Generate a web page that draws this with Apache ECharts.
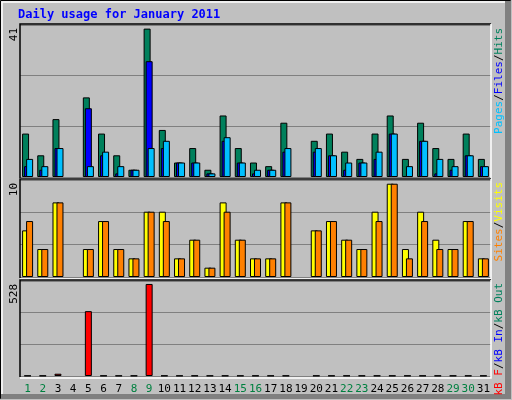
<!DOCTYPE html>
<html>
<head>
<meta charset="utf-8">
<script src="https://cdn.jsdelivr.net/npm/echarts@6/dist/echarts.min.js"></script>
<style>
html, body { margin: 0; padding: 0; background: #c0c0c0; }
#chart { width: 512px; height: 400px; }
</style>
</head>
<body>
<div id="chart"></div>
<script>
var days = [];
for (var d = 1; d <= 31; d++) { days.push(String(d)); }
var weekend = [1, 2, 8, 9, 15, 16, 22, 23, 29, 30];

var hits  = [12, 6, 16, 0, 22, 12, 6, 2, 41, 13, 4, 8, 2, 17, 8, 4, 3, 15, 0, 10, 12, 7, 5, 12, 17, 5, 15, 8, 5, 12, 5];
var files = [3, 2, 8, 0, 19, 6, 1, 2, 32, 8, 4, 4, 1, 10, 4, 1, 2, 7, 0, 7, 6, 2, 4, 5, 12, 0, 10, 1, 2, 6, 3];
var pages = [5, 3, 8, 0, 3, 7, 3, 2, 8, 10, 4, 4, 1, 11, 4, 2, 2, 8, 0, 8, 6, 4, 4, 7, 12, 3, 10, 5, 3, 6, 3];

var visits = [5, 3, 8, 0, 3, 6, 3, 2, 7, 7, 2, 4, 1, 8, 4, 2, 2, 8, 0, 5, 6, 4, 3, 7, 10, 3, 7, 4, 3, 6, 2];
var sites  = [6, 3, 8, 0, 3, 6, 3, 2, 7, 6, 2, 4, 1, 7, 4, 2, 2, 8, 0, 5, 6, 4, 3, 6, 10, 2, 6, 3, 3, 6, 2];

var kbytes = [2, 2, 13, 0, 372, 2, 2, 2, 528, 2, 2, 2, 2, 2, 2, 2, 2, 2, 0, 2, 2, 2, 2, 2, 2, 2, 2, 2, 2, 2, 2];

var chart = echarts.init(document.getElementById('chart'));

var mono = 'DejaVu Sans Mono';
var grids = [
    { left: 20, right: 21, top: 25, height: 152 },
    { left: 20, right: 21, top: 180, height: 97 },
    { left: 20, right: 21, top: 281, height: 95 }
];
var maxes = [42, 10.4, 545];

var xAxes = grids.map(function (g, i) {
    return {
        type: 'category', gridIndex: i, data: days,
        axisLine: { show: false }, axisTick: { show: false },
        axisLabel: i < 2 ? { show: false } : {
            interval: 0, margin: 8, fontFamily: mono, fontSize: 11,
            formatter: function (v) {
                return weekend.indexOf(+v) >= 0 ? '{w|' + v + '}' : '{n|' + v + '}';
            },
            rich: { w: { color: '#008040', fontFamily: mono, fontSize: 11 }, n: { color: '#000', fontFamily: mono, fontSize: 11 } }
        }
    };
});
var yAxes = grids.map(function (g, i) {
    return {
        type: 'value', gridIndex: i, min: 0, max: maxes[i], interval: maxes[i] / 3,
        axisLabel: { show: false }, axisLine: { show: false }, axisTick: { show: false },
        splitLine: { lineStyle: { color: '#808080', width: 1 } }
    };
});

function bar(name, data, color, axis, gap, z) {
    return {
        name: name, type: 'bar', xAxisIndex: axis, yAxisIndex: axis,
        data: data.map(function (v) { return v === 0 ? '-' : v; }),
        barWidth: 7, barGap: gap, z: z, animation: false,
        itemStyle: { color: color, borderColor: '#000', borderWidth: 1 }
    };
}

function vText(x, y, parts) {
    var st = function (c) { return { fill: c, fontFamily: mono, fontSize: 11 }; };
    return {
        type: 'text', x: x, y: y, rotation: Math.PI / 2,
        style: {
            text: parts.map(function (p) { return '{' + p[1] + '|' + p[0] + '}'; }).join(''),
            font: '11px "DejaVu Sans Mono"',
            rich: {
                a: st('#00805c'), b: st('#0000ff'), c: st('#00c0ff'), k: st('#000'),
                y: st('#ffff00'), o: st('#ff8000'), r: st('#ff0000')
            },
            align: 'right', verticalAlign: 'middle'
        }
    };
}
function frame(g) {
    return {
        type: 'polyline', silent: true, z: 100,
        shape: { points: [[g.left, g.top + g.height + 1], [g.left, g.top - 1], [491, g.top - 1]] },
        style: { stroke: '#000', lineWidth: 1.5, fill: null }
    };
}
function frame2(g) {
    return {
        type: 'polyline', silent: true, z: 100,
        shape: { points: [[491, g.top - 1], [491, g.top + g.height + 2], [g.left, g.top + g.height + 2]] },
        style: { stroke: '#fff', lineWidth: 1.5, fill: null }
    };
}
function leftLabel(y, t) {
    return { type: 'text', x: 14, y: y, rotation: Math.PI / 2,
        style: { text: t, fill: '#000', font: '11px "DejaVu Sans Mono"', align: 'right', verticalAlign: 'middle' } };
}

chart.setOption({
    backgroundColor: '#c0c0c0',
    grid: grids,
    xAxis: xAxes,
    yAxis: yAxes,
    series: [
        bar('Hits', hits, '#00805c', 0, '-71%', 2),
        bar('Files', files, '#0000ff', 0, '-71%', 3),
        bar('Pages', pages, '#00c0ff', 0, '-71%', 4),
        bar('Visits', visits, '#ffff00', 1, '-43%', 2),
        bar('Sites', sites, '#ff8000', 1, '-43%', 3),
        bar('kB F', kbytes, '#ff0000', 2, '0%', 2)
    ],
    graphic: [
        { type: 'rect', shape: { x: 0.5, y: 0.5, width: 510, height: 398 }, style: { fill: null, stroke: '#000', lineWidth: 1 } },
        { type: 'polyline', shape: { points: [[2, 397], [2, 2], [505, 2]] }, style: { stroke: '#fff', lineWidth: 1.5, fill: null } },
        { type: 'rect', shape: { x: 505, y: 1, width: 6, height: 398 }, style: { fill: '#808080' } },
        { type: 'rect', shape: { x: 1, y: 394, width: 510, height: 5 }, style: { fill: '#808080' } },
        { type: 'text', x: 18, y: 15, style: { text: 'Daily usage for January 2011', fill: '#0000ff', font: 'bold 12px "DejaVu Sans Mono"', verticalAlign: 'middle' } },
        leftLabel(28, '41'),
        leftLabel(183, '10'),
        leftLabel(284, '528'),
        vText(499, 28, [['Pages', 'c'], ['/', 'k'], ['Files', 'b'], ['/', 'k'], ['Hits', 'a']]),
        vText(499, 182, [['Sites', 'o'], ['/', 'k'], ['Visits', 'y']]),
        vText(499, 283, [['kB F', 'r'], ['/', 'k'], ['kB In', 'b'], ['/', 'k'], ['kB Out', 'a']]),
        frame(grids[0]), frame2(grids[0]),
        frame(grids[1]), frame2(grids[1]),
        frame(grids[2]), frame2(grids[2])
    ]
});
</script>
</body>
</html>
